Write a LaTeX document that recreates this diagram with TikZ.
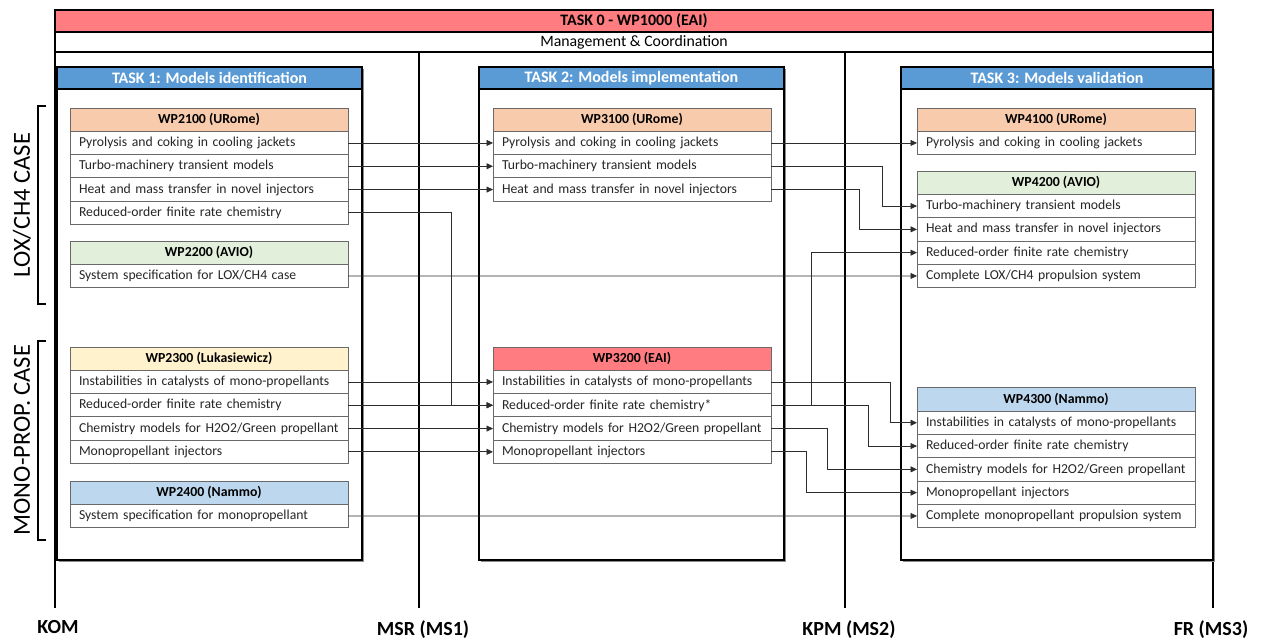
\documentclass[tikz,border=0pt]{standalone}
\usepackage{fontspec}
\setmainfont{Carlito}
\usetikzlibrary{arrows.meta, shadows, positioning}
\definecolor{eaired}{RGB}{255,124,128}
\definecolor{taskblue}{RGB}{91,155,213}
\definecolor{uromepeach}{RGB}{248,203,173}
\definecolor{aviogreen}{RGB}{226,239,218}
\definecolor{lukayellow}{RGB}{255,242,204}
\definecolor{nammoblue}{RGB}{189,215,238}
\definecolor{wpgrey}{RGB}{105,105,105}
\definecolor{linkgrey}{RGB}{45,45,45}

\tikzset{
  wphead/.style={draw=wpgrey, line width=0.9pt, anchor=north west, outer sep=0pt, inner sep=0pt,
    minimum width=278pt, minimum height=23.3pt, font=\fontsize{13.8}{15}\selectfont\bfseries},
  wprow/.style={draw=wpgrey, line width=0.9pt, fill=white, text=black!85, outer sep=0pt, inner xsep=9pt,
    inner ysep=0pt, text width=260pt, align=left, minimum height=23.3pt, font=\fontsize{13.7}{15}\selectfont},
  taskbody/.style={draw, line width=1.4pt, fill=white, anchor=north west, outer sep=0pt, inner sep=0pt,
    minimum height=493pt, drop shadow={shadow xshift=1.5pt, shadow yshift=-1.5pt, fill=black!45, opacity=1}},
  tasktitle/.style={draw, line width=1.4pt, fill=taskblue, text=white, anchor=north west, outer sep=0pt,
    inner sep=0pt, minimum height=22pt, font=\fontsize{16}{18}\selectfont\bfseries},
  topbar/.style={draw, line width=1.2pt, outer sep=0pt, inner sep=0pt, minimum width=1158pt},
  milestone/.style={line width=1.2pt},
  mslabel/.style={font=\fontsize{20}{22}\selectfont\bfseries},
  casebracket/.style={line width=1.3pt},
  caselabel/.style={rotate=90, font=\fontsize{24.5}{27}\selectfont},
  link/.style={draw=linkgrey, line width=0.8pt, -{Triangle[length=6.5pt, width=6pt]}}
}

\begin{document}
\begin{tikzpicture}[x=1pt, y=-1pt]
\useasboundingbox (0,0) rectangle (1262,638);

\node[topbar, anchor=north west, fill=eaired, minimum height=22pt, font=\fontsize{16}{18}\selectfont\bfseries] (task0) at (55,10) {TASK 0 - WP1000 (EAI)};
\node[topbar, fill=white, minimum height=20pt, font=\fontsize{15.8}{18}\selectfont, below=0pt of task0] (mgmt) {Management \& Coordination};

\coordinate (kom) at (55,608);
\coordinate (msr) at (419,608);
\coordinate (kpm) at (845,608);
\coordinate (fr) at (1213,608);
\draw[milestone] (mgmt.south west) -- (kom);
\draw[milestone] (mgmt.south -| msr) -- (msr);
\draw[milestone] (mgmt.south -| kpm) -- (kpm);
\draw[milestone] (mgmt.south east) -- (fr);
\node[mslabel, below=9pt of kom, xshift=3pt] (komlbl) {KOM};
\node[mslabel, below=9pt of msr, xshift=4pt] (msrlbl) {MSR (MS1)};
\node[mslabel, below=9pt of kpm, xshift=4pt] (kpmlbl) {KPM (MS2)};
\node[mslabel, below=9pt of fr, xshift=-2pt] (frlbl) {FR (MS3)};

\node[taskbody, minimum width=305pt] (task1) at (57,67) {};
\node[tasktitle, minimum width=305pt] (task1t) at (57,67) {TASK 1: Models identification};
\node[taskbody, minimum width=305pt] (task2) at (479,67) {};
\node[tasktitle, minimum width=305pt] (task2t) at (479,67) {TASK 2: Models implementation};
\node[taskbody, minimum width=312pt] (task3) at (901,67) {};
\node[tasktitle, minimum width=312pt] (task3t) at (901,67) {TASK 3: Models validation};

\node[wphead, fill=uromepeach] (wp21) at (70,108) {WP2100 (URome)};
\node[wprow, below=0pt of wp21] (p21) {Pyrolysis and coking in cooling jackets};
\node[wprow, below=0pt of p21] (t21) {Turbo-machinery transient models};
\node[wprow, below=0pt of t21] (h21) {Heat and mass transfer in novel injectors};
\node[wprow, below=0pt of h21] (r21) {Reduced-order finite rate chemistry};

\node[wphead, fill=aviogreen] (wp22) at (70,241) {WP2200 (AVIO)};
\node[wprow, below=0pt of wp22] (s22) {System specification for LOX/CH4 case};

\node[wphead, fill=lukayellow] (wp23) at (70,347) {WP2300 (Lukasiewicz)};
\node[wprow, below=0pt of wp23] (i23) {Instabilities in catalysts of mono-propellants};
\node[wprow, below=0pt of i23] (r23) {Reduced-order finite rate chemistry};
\node[wprow, below=0pt of r23] (c23) {Chemistry models for H2O2/Green propellant};
\node[wprow, below=0pt of c23] (m23) {Monopropellant injectors};

\node[wphead, fill=nammoblue] (wp24) at (70,481) {WP2400 (Nammo)};
\node[wprow, below=0pt of wp24] (s24) {System specification for monopropellant};

\node[wphead, fill=uromepeach] (wp31) at (493,108) {WP3100 (URome)};
\node[wprow, below=0pt of wp31] (p31) {Pyrolysis and coking in cooling jackets};
\node[wprow, below=0pt of p31] (t31) {Turbo-machinery transient models};
\node[wprow, below=0pt of t31] (h31) {Heat and mass transfer in novel injectors};

\node[wphead, fill=eaired] (wp32) at (493,347) {WP3200 (EAI)};
\node[wprow, below=0pt of wp32] (i32) {Instabilities in catalysts of mono-propellants};
\node[wprow, below=0pt of i32] (r32) {Reduced-order finite rate chemistry*};
\node[wprow, below=0pt of r32] (c32) {Chemistry models for H2O2/Green propellant};
\node[wprow, below=0pt of c32] (m32) {Monopropellant injectors};

\node[wphead, fill=uromepeach] (wp41) at (917,108) {WP4100 (URome)};
\node[wprow, below=0pt of wp41] (p41) {Pyrolysis and coking in cooling jackets};

\node[wphead, fill=aviogreen] (wp42) at (917,171.1) {WP4200 (AVIO)};
\node[wprow, below=0pt of wp42] (t42) {Turbo-machinery transient models};
\node[wprow, below=0pt of t42] (h42) {Heat and mass transfer in novel injectors};
\node[wprow, below=0pt of h42] (r42) {Reduced-order finite rate chemistry};
\node[wprow, below=0pt of r42] (l42) {Complete LOX/CH4 propulsion system};

\node[wphead, fill=nammoblue] (wp43) at (917,387.8) {WP4300 (Nammo)};
\node[wprow, below=0pt of wp43] (i43) {Instabilities in catalysts of mono-propellants};
\node[wprow, below=0pt of i43] (r43) {Reduced-order finite rate chemistry};
\node[wprow, below=0pt of r43] (c43) {Chemistry models for H2O2/Green propellant};
\node[wprow, below=0pt of c43] (m43) {Monopropellant injectors};
\node[wprow, below=0pt of m43] (n43) {Complete monopropellant propulsion system};

\draw[link] (p21.east) -- (p31.west);
\draw[link] (t21.east) -- (t31.west);
\draw[link] (h21.east) -- (h31.west);
\draw[link] (r21.east) -- ++(103,0) |- (r32.west);
\draw[link] (s22.east) -- (l42.west);
\draw[link] (i23.east) -- (i32.west);
\draw[link] (r23.east) -- (r32.west);
\draw[link] (c23.east) -- (c32.west);
\draw[link] (m23.east) -- (m32.west);
\draw[link] (s24.east) -- (n43.west);

\draw[link] (p31.east) -- (p41.west);
\draw[link] (t31.east) -- ++(111,0) |- (t42.west);
\draw[link] (h31.east) -- ++(88,0) |- (h42.west);
\draw[link] (r32.east) -- ++(40,0) |- (r42.west);
\draw[link] (i32.east) -- ++(119,0) |- (i43.west);
\draw[link] (r32.east) -- ++(97,0) |- (r43.west);
\draw[link] (c32.east) -- ++(56,0) |- (c43.west);
\draw[link] (m32.east) -- ++(35,0) |- (m43.west);

\draw[casebracket] (46,106) -- (38,106) -- (38,304) -- (46,304);
\node[caselabel] (loxcase) at (22,205) {LOX/CH4 CASE};
\draw[casebracket] (46,341) -- (38,341) -- (38,540) -- (46,540);
\node[caselabel] (monocase) at (22,440) {MONO-PROP. CASE};
\end{tikzpicture}
\end{document}
